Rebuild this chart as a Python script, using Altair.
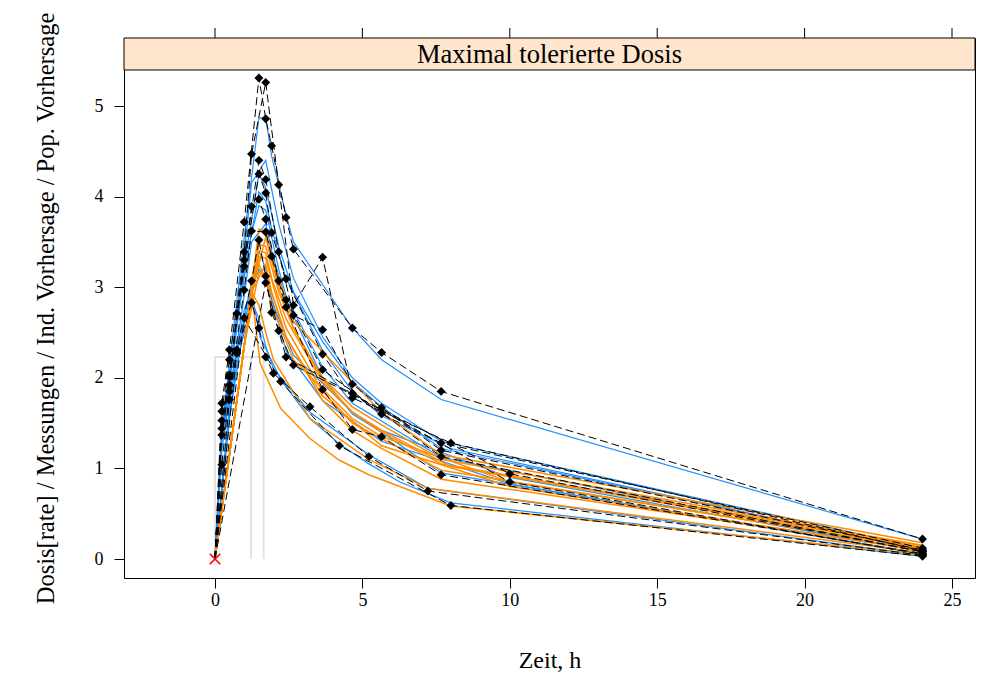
import altair as alt
import pandas as pd

FONT = "Liberation Serif"
BLUE = "#1E90FF"
ORANGE = "#FF8C00"

# ---- data: per-subject times, observations (dv), individual (ip) and population (pr) predictions
S1_T  = [0, 0.23, 0.49, 0.99, 1.49, 1.72, 1.92, 2.41, 2.66, 4.66, 5.65, 7.67, 24]
S1_DV = [0, 1.72, 2.31, 3.72, 5.31, 4.86, 4.56, 3.77, 3.42, 2.55, 2.28, 1.85, 0.22]
S1_IP = [0, 1.45, 2.15, 3.55, 4.87, 4.87, 4.45, 3.80, 3.50, 2.55, 2.20, 1.76, 0.22]
S1_PR = [0, 0.55, 1.15, 2.35, 3.64, 3.62, 3.35, 2.85, 2.62, 1.95, 1.62, 1.15, 0.18]

S2_T  = [0, 0.23, 0.49, 0.99, 1.24, 1.72, 2.16, 2.66, 3.65, 4.66, 5.65, 7.67, 24]
S2_DV = [0, 1.63, 2.20, 3.39, 4.47, 5.26, 4.13, 2.80, 3.33, 1.83, 1.60, 1.28, 0.12]
S2_IP = [0, 1.40, 2.05, 3.35, 4.15, 4.40, 3.70, 3.10, 2.45, 2.00, 1.72, 1.30, 0.12]
S2_PR = [0, 0.55, 1.15, 2.35, 2.95, 3.55, 3.00, 2.55, 1.98, 1.62, 1.40, 1.05, 0.15]

S3_T  = [0, 0.23, 0.49, 0.99, 1.49, 1.72, 2.16, 2.66, 3.65, 4.66, 5.65, 7.67, 24]
S3_DV = [0, 1.53, 2.03, 3.30, 4.40, 4.19, 3.39, 2.69, 2.53, 1.93, 1.67, 1.20, 0.10]
S3_IP = [0, 1.38, 2.00, 3.25, 4.25, 4.10, 3.45, 2.95, 2.40, 1.95, 1.68, 1.22, 0.10]
S3_PR = [0, 0.55, 1.15, 2.35, 3.47, 3.45, 2.95, 2.55, 2.00, 1.68, 1.48, 1.10, 0.15]

S4_T  = [0, 0.23, 0.49, 0.99, 1.49, 1.72, 1.92, 2.41, 3.65, 4.66, 5.65, 8.0, 24]
S4_DV = [0, 1.44, 2.01, 3.23, 4.25, 4.04, 3.60, 3.09, 2.26, 1.78, None, 1.28, 0.09]
S4_IP = [0, 1.35, 1.95, 3.15, 4.05, 3.95, 3.65, 3.10, 2.30, 1.85, 1.58, 1.22, 0.09]
S4_PR = [0, 0.55, 1.15, 2.35, 3.40, 3.38, 3.10, 2.65, 1.95, 1.62, 1.42, 1.02, 0.13]

S5_T  = [0, 0.23, 0.49, 0.74, 1.24, 1.49, 1.72, 2.16, 2.41, 3.65, 4.66, 7.67, 24]
S5_DV = [0, 1.37, 1.92, 2.71, 3.89, 3.97, 3.75, 3.07, 2.86, 2.09, None, 1.13, 0.08]
S5_IP = [0, 1.32, 1.90, 2.60, 3.60, 3.90, 3.85, 3.20, 2.90, 2.12, 1.72, 1.12, 0.08]
S5_PR = [0, 0.55, 1.15, 1.75, 2.95, 3.34, 3.32, 2.80, 2.55, 1.85, 1.50, 0.98, 0.12]

S6_T  = [0, 0.23, 0.49, 0.99, 1.24, 1.72, 1.92, 2.41, 3.65, 4.66, 5.65, 7.67, 24]
S6_DV = [0, 1.04, 1.85, 2.97, 3.62, 3.61, 3.34, 2.78, 1.87, 1.43, 1.35, 0.93, 0.06]
S6_IP = [0, 1.20, 1.80, 2.90, 3.50, 3.70, 3.40, 2.85, 2.00, 1.60, 1.40, 0.95, 0.06]
S6_PR = [0, 0.55, 1.15, 2.35, 2.95, 3.25, 2.95, 2.45, 1.75, 1.42, 1.22, 0.88, 0.10]

S7_T  = [0, 0.49, 0.74, 1.24, 1.49, 1.72, 1.92, 2.66, 4.66, 5.65, 10, 24]
S7_DV = [0, 1.76, 2.31, 3.07, 3.52, 3.12, 2.72, 2.14, None, None, 0.94, 0.08]
S7_IP = [0, 1.70, 2.25, 3.05, 3.40, 3.20, 2.85, 2.25, 1.62, 1.42, 0.90, 0.08]
S7_PR = [0, 1.15, 1.75, 2.95, 3.25, 3.10, 2.80, 2.20, 1.55, 1.35, 0.85, 0.12]

S8_T  = [0, 0.49, 0.74, 1.24, 1.49, 1.72, 1.98, 3.22, 5.22, 7.22, 24]
S8_DV = [0, None, 2.27, 2.83, 2.55, 2.23, 2.05, 1.68, 1.13, 0.75, 0.04]
S8_IP = [0, 1.60, 2.15, 2.85, 2.65, 2.35, 2.10, 1.62, 1.15, 0.78, 0.04]
S8_PR = [0, 1.15, 1.75, 2.95, 2.80, 2.50, 2.20, 1.55, 1.10, 0.78, 0.07]

S9_T  = [0, 0.49, 0.99, 1.24, 1.53, 2.23, 3.22, 4.22, 5.22, 6.27, 8.0, 24]
S9_DV = [0, None, 2.66, None, None, 1.96, None, 1.25, None, None, 0.59, 0.03]
S9_IP = [0, 1.55, 2.60, 2.95, 2.45, 1.98, 1.55, 1.27, 1.05, 0.85, 0.62, 0.03]
S9_PR = [0, 1.15, 2.35, 2.95, 2.16, 1.66, 1.33, 1.09, 0.93, 0.80, 0.585, 0.05]

S10_T  = [0, 0.23, 0.49, 0.99, 1.49, 1.72, 2.16, 2.41, 3.65, 5.65, 10, 24]
S10_DV = [0, None, None, None, None, 3.05, 2.52, 2.23, None, None, 0.85, 0.05]
S10_IP = [0, 1.30, 1.85, 2.75, 3.20, 3.10, 2.60, 2.30, 1.75, 1.30, 0.83, 0.05]
S10_PR = [0, 0.55, 1.15, 2.35, 3.17, 3.12, 2.70, 2.45, 1.80, 1.25, 0.80, 0.09]

SUBJECTS = [
    ("S1", S1_T, S1_DV, S1_IP, S1_PR),
    ("S2", S2_T, S2_DV, S2_IP, S2_PR),
    ("S3", S3_T, S3_DV, S3_IP, S3_PR),
    ("S4", S4_T, S4_DV, S4_IP, S4_PR),
    ("S5", S5_T, S5_DV, S5_IP, S5_PR),
    ("S6", S6_T, S6_DV, S6_IP, S6_PR),
    ("S7", S7_T, S7_DV, S7_IP, S7_PR),
    ("S8", S8_T, S8_DV, S8_IP, S8_PR),
    ("S9", S9_T, S9_DV, S9_IP, S9_PR),
    ("S10", S10_T, S10_DV, S10_IP, S10_PR),
]

# dosing rate (infusion) boxes: end of infusion and rate
DOSE_END = [1.22, 1.65]
DOSE_RATE = [2.23, 2.23]

X_TICKS = [0, 5, 10, 15, 20, 25]
Y_TICKS = [0, 1, 2, 3, 4, 5]
STRIP_TITLE = "Maximal tolerierte Dosis"

# ---- build tables
rows_ip, rows_pr, rows_dv = [], [], []
for sid, T, DV, IP, PR in SUBJECTS:
    for t, dv, ip, pr in zip(T, DV, IP, PR):
        rows_ip.append({"id": sid, "t": t, "y": ip})
        rows_pr.append({"id": sid, "t": t, "y": pr})
        if dv is not None:
            rows_dv.append({"id": sid, "t": t, "y": dv})
df_ip = pd.DataFrame(rows_ip)
df_pr = pd.DataFrame(rows_pr)
df_dv = pd.DataFrame(rows_dv)
df_pts = df_dv[df_dv["t"] > 0]
df_orig = pd.DataFrame({"t": [0.0], "y": [0.0]})

rows_dose = []
for i, (te, r) in enumerate(zip(DOSE_END, DOSE_RATE)):
    for k, (t, y) in enumerate([(0, 0), (0, r), (te, r), (te, 0)]):
        rows_dose.append({"id": i, "k": k, "t": t, "y": y})
df_dose = pd.DataFrame(rows_dose)
df_ticks = pd.DataFrame({"t": X_TICKS})
df_one = pd.DataFrame({"txt": [STRIP_TITLE]})

W, H = 851, 540
xscale = alt.Scale(domain=[-3.087, 25.78], nice=False, zero=False)
yscale = alt.Scale(domain=[-0.2097, 5.7506], nice=False, zero=False)
xaxis = alt.Axis(values=X_TICKS, grid=False, domain=False, tickSize=10, tickColor="black",
                 labelFont=FONT, labelFontSize=18, labelColor="black", labelPadding=3,
                 title="Zeit, h", titleFont=FONT, titleFontSize=24, titleFontWeight="normal",
                 titleColor="black", titleY=89, titleBaseline="alphabetic")
yaxis = alt.Axis(values=Y_TICKS, grid=False, domain=False, tickSize=10, tickColor="black",
                 labelFont=FONT, labelFontSize=18, labelColor="black", labelPadding=11,
                 title="Dosis[rate] / Messungen / Ind. Vorhersage / Pop. Vorhersage",
                 titleFont=FONT, titleFontSize=24.5, titleFontWeight="normal", titleColor="black",
                 titleAngle=270, titleBaseline="alphabetic", titleX=-71)

X = alt.X("t:Q", scale=xscale, axis=xaxis)
Y = alt.Y("y:Q", scale=yscale, axis=yaxis)

dose = alt.Chart(df_dose).mark_line(color="#e3e3e3", strokeWidth=2).encode(
    x=X, y=Y, detail="id:N", order="k:Q")
blue = alt.Chart(df_ip).mark_line(color=BLUE, strokeWidth=1.2).encode(x=X, y=Y, detail="id:N")
orange = alt.Chart(df_pr).mark_line(color=ORANGE, strokeWidth=1.5).encode(x=X, y=Y, detail="id:N")
dashed = alt.Chart(df_dv).mark_line(color="black", strokeWidth=1, strokeDash=[8, 4]).encode(
    x=X, y=Y, detail="id:N")
pts = alt.Chart(df_pts).mark_point(shape="diamond", filled=True, size=80, color="black", opacity=1).encode(
    x=X, y=Y)
cross = alt.Chart(df_orig).mark_point(shape="M-1,-1L1,1M-1,1L1,-1", size=110, filled=False,
                                      stroke="red", strokeWidth=1.6, opacity=1).encode(x=X, y=Y)
strip = alt.Chart(df_one).mark_rect(fill="#FFE5CC", stroke="black", strokeWidth=1).encode(
    x=alt.value(0), x2=alt.value(W), y=alt.value(0), y2=alt.value(32))
strip_txt = alt.Chart(df_one).mark_text(font=FONT, fontSize=26.5, color="black", baseline="middle",
                                        align="center").encode(
    x=alt.value(W / 2), y=alt.value(17), text="txt:N")
top_ticks = alt.Chart(df_ticks).mark_rule(color="black", strokeWidth=1).encode(
    x=X, y=alt.value(-10), y2=alt.value(0))

chart = alt.layer(dose, blue, orange, dashed, pts, cross, strip, strip_txt, top_ticks).properties(
    width=W, height=H,
    autosize=alt.AutoSizeParams(type="none"),
    padding={"left": 124, "top": 38, "right": 9, "bottom": 101},
    background="white",
).configure_view(stroke="black", strokeWidth=1).configure_axis(
    labelFont=FONT, titleFont=FONT
)

chart.save("out.html", embed_options={"renderer": "svg", "actions": False})
